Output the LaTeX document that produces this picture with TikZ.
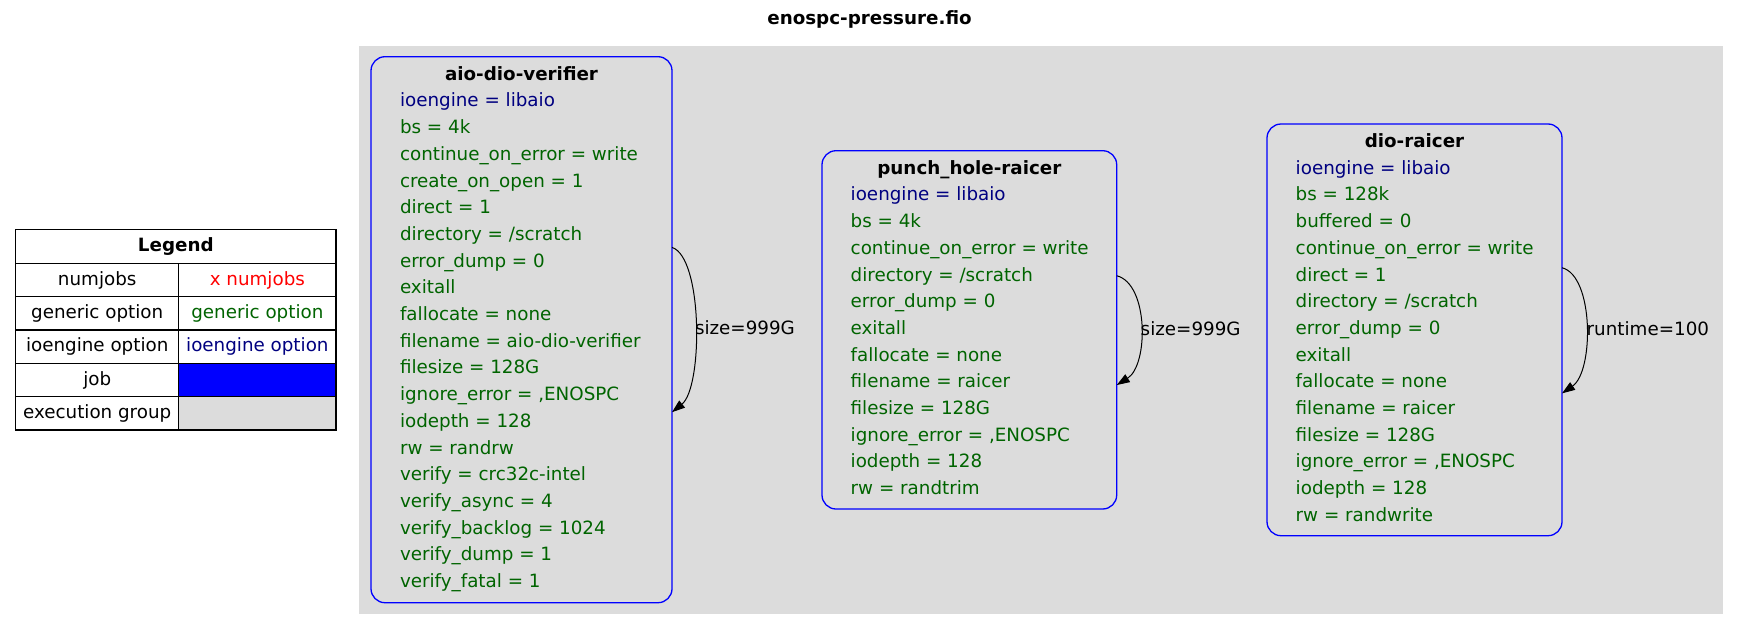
\documentclass[tikz,border=0pt]{standalone}
\usepackage{fontspec}
\setmainfont{DejaVu Sans}
\usetikzlibrary{arrows.meta}
\definecolor{clgray}{HTML}{DCDCDC}
\definecolor{optgreen}{HTML}{006400}
\definecolor{ionavy}{HTML}{000080}
\newcommand{\gvfont}{\fontsize{18.3}{26.7}\selectfont}
\begin{document}
\begin{tikzpicture}[x=1pt,y=-1pt,
  every node/.style={font=\gvfont, inner sep=0pt, outer sep=0pt},
  jobbox/.style={draw=blue, line width=1.3pt, rounded corners=14pt},
  jobtitle/.style={font=\gvfont\bfseries, anchor=base},
  genopt/.style={text=optgreen, anchor=base west},
  ioopt/.style={text=ionavy, anchor=base west},
  cell/.style={draw=black, line width=1.2pt},
  edgelbl/.style={anchor=west},
  selfloop/.style={draw=black, line width=1pt, -{Triangle[length=13pt,width=9pt]}}]
\useasboundingbox (0,0) rectangle (1739,629);
\fill[white] (0,0) rectangle (1739,629);

% graph title
\node[font=\gvfont\bfseries] (title) at (869.5,19) {enospc-pressure.fio};

% execution group (cluster)
\fill[clgray] (359.3,45.7) rectangle (1723.3,613.7);

% ---- Legend ----
\node[cell, minimum width=320.3pt, minimum height=34pt] (lgH) at (175.85,246.3) {\bfseries Legend};
\node[cell, minimum width=163pt, minimum height=33.33pt] (lg1a) at (97.2,280) {numjobs};
\node[cell, minimum width=157.3pt, minimum height=33.33pt, text=red] (lg1b) at (257.35,280) {x numjobs};
\node[cell, minimum width=163pt, minimum height=33.33pt] (lg2a) at (97.2,313.3) {generic option};
\node[cell, minimum width=157.3pt, minimum height=33.33pt, text=optgreen] (lg2b) at (257.35,313.3) {generic option};
\node[cell, minimum width=163pt, minimum height=33.33pt] (lg3a) at (97.2,346.7) {ioengine option};
\node[cell, minimum width=157.3pt, minimum height=33.33pt, text=ionavy] (lg3b) at (257.35,346.7) {ioengine option};
\node[cell, minimum width=163pt, minimum height=33.33pt] (lg4a) at (97.2,380) {job};
\node[cell, minimum width=157.3pt, minimum height=33.33pt, fill=blue] (lg4b) at (257.35,380) {};
\node[cell, minimum width=163pt, minimum height=33.33pt] (lg5a) at (97.2,413.3) {execution group};
\node[cell, minimum width=157.3pt, minimum height=33.33pt, fill=clgray] (lg5b) at (257.35,413.3) {};

% ---- aio-dio-verifier ----
\node[jobbox, minimum width=301pt, minimum height=546pt] (aio) at (521.5,329.7) {};
\node[jobtitle] (aioT) at (521.5,80.2) {aio-dio-verifier};
\node[ioopt] (aioL0) at (400,106.9) {ioengine = libaio};
\foreach \txt [count=\i] in {{bs = 4k},{continue\_on\_error = write},{create\_on\_open = 1},{direct = 1},{directory = /scratch},{error\_dump = 0},{exitall},{fallocate = none},{filename = aio-dio-verifier},{filesize = 128G},{ignore\_error = ,ENOSPC},{iodepth = 128},{rw = randrw},{verify = crc32c-intel},{verify\_async = 4},{verify\_backlog = 1024},{verify\_dump = 1},{verify\_fatal = 1}}
  \node[genopt] (aioL\i) at (400,106.9+26.7*\i) {\txt};

% ---- punch_hole-raicer ----
\node[jobbox, minimum width=294.7pt, minimum height=358.3pt] (punch) at (969.35,329.85) {};
\node[jobtitle] (punchT) at (969.35,174.2) {punch\_hole-raicer};
\node[ioopt] (punchL0) at (850.7,200.9) {ioengine = libaio};
\foreach \txt [count=\i] in {{bs = 4k},{continue\_on\_error = write},{directory = /scratch},{error\_dump = 0},{exitall},{fallocate = none},{filename = raicer},{filesize = 128G},{ignore\_error = ,ENOSPC},{iodepth = 128},{rw = randtrim}}
  \node[genopt] (punchL\i) at (850.7,200.9+26.7*\i) {\txt};

% ---- dio-raicer ----
\node[jobbox, minimum width=295pt, minimum height=411.7pt] (dio) at (1414.5,329.85) {};
\node[jobtitle] (dioT) at (1414.5,147.5) {dio-raicer};
\node[ioopt] (dioL0) at (1295.7,174.2) {ioengine = libaio};
\foreach \txt [count=\i] in {{bs = 128k},{buffered = 0},{continue\_on\_error = write},{direct = 1},{directory = /scratch},{error\_dump = 0},{exitall},{fallocate = none},{filename = raicer},{filesize = 128G},{ignore\_error = ,ENOSPC},{iodepth = 128},{rw = randwrite}}
  \node[genopt] (dioL\i) at (1295.7,174.2+26.7*\i) {\txt};

% ---- self loops ----
\draw[selfloop] ([yshift=82.3pt]aio.east) .. controls +(31,10) and +(31,-25) .. ([yshift=-82.5pt]aio.east);
\node[edgelbl] (aioE) at (695,328) {size=999G};

\draw[selfloop] ([yshift=54.1pt]punch.east) .. controls +(32,8) and +(32,-20) .. ([yshift=-55.2pt]punch.east);
\node[edgelbl] (punchE) at (1140.7,329) {size=999G};

\draw[selfloop] ([yshift=62.1pt]dio.east) .. controls +(32,8) and +(32,-22) .. ([yshift=-63.5pt]dio.east);
\node[edgelbl] (dioE) at (1586.7,328.3) {runtime=100};
\end{tikzpicture}
\end{document}
